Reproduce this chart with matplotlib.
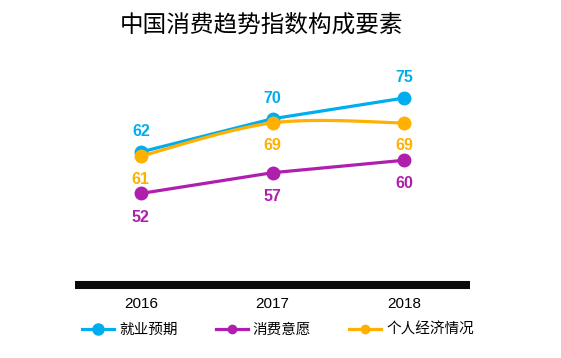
import numpy as np
import matplotlib
matplotlib.use("Agg")
import matplotlib.pyplot as plt
from matplotlib.lines import Line2D

plt.rcParams['font.family'] = ['Liberation Sans', 'Noto Sans CJK SC', 'DejaVu Sans']

years = ["2016", "2017", "2018"]
series_names = ["就业预期", "消费意愿", "个人经济情况"]
employment = [62, 70, 75]
willingness = [52, 57, 60]
personal = [61, 69, 69]

colors = ["#00AEEF", "#B01EAE", "#FFB000"]
label_offset = [14.5, -17, -16.5]   # points; + above the point, - below
smoothed = [False, False, True]      # only the orange line is drawn smoothed


def smooth(xs, ys, n=40):
    # Excel-like smoothed line through the points (cubic Bezier, Catmull-Rom control points)
    pts = np.column_stack([xs, ys]).astype(float)
    out = []
    for i in range(len(pts) - 1):
        p0 = pts[max(i - 1, 0)]
        p1 = pts[i]
        p2 = pts[i + 1]
        p3 = pts[min(i + 2, len(pts) - 1)]
        c1 = p1 + (p2 - p0) / 6
        c2 = p2 - (p3 - p1) / 6
        t = np.linspace(0, 1, n)[:, None]
        seg = (1 - t)**3 * p1 + 3 * (1 - t)**2 * t * c1 + 3 * (1 - t) * t**2 * c2 + t**3 * p2
        out.append(seg)
    s = np.vstack(out)
    return s[:, 0], s[:, 1]


W, H = 561, 358
fig = plt.figure(figsize=(W / 100, H / 100), dpi=100)
ax = fig.add_axes([75 / W, (H - 285) / H, 395 / W, 225 / H])

x = np.arange(len(years))
data = [employment, willingness, personal]
for k, (vals, c, off, sm) in enumerate(zip(data, colors, label_offset, smoothed)):
    if sm:
        sx, sy = smooth(x, vals)
    else:
        sx, sy = x, vals
    ax.plot(sx, sy, color=c, lw=2.3, zorder=2 + k, solid_capstyle="round")
    ax.plot(x, vals, "o", color=c, ms=9, zorder=2 + k)
    for xi, v in zip(x, vals):
        ax.annotate(str(v), (xi, v), xytext=(0, off), textcoords="offset points",
                    ha="center", va="center", fontsize=11.5, fontweight="bold", color=c)

ax.set_xlim(-0.5, 2.5)
ax.set_ylim(29.94, 84.16)
for s in ["top", "left", "right"]:
    ax.spines[s].set_visible(False)
ax.spines["bottom"].set_linewidth(5.8)
ax.spines["bottom"].set_color("#0a0a0a")
ax.spines["bottom"].set_capstyle("butt")
ax.set_yticks([])
ax.set_xticks(x)
ax.set_xticklabels(years, fontsize=11)
ax.tick_params(axis="x", length=0, pad=9)

fig.text(261 / W, 1 - 25 / H, "中国消费趋势指数构成要素", ha="center", va="center",
         fontsize=17, family=["Noto Sans CJK SC", "DejaVu Sans"])

handles = [
    Line2D([], [], color=colors[0], lw=2.3, marker="o", ms=8),
    Line2D([], [], color=colors[1], lw=2.3, marker="o", ms=6),
    Line2D([], [], color=colors[2], lw=2.3, marker="o", ms=6),
]
fig.legend(handles, series_names, loc="center", bbox_to_anchor=(278 / W, 1 - 330 / H),
           ncol=3, frameon=False, handlelength=2.2, handletextpad=0.35,
           columnspacing=2.6, prop={"family": ["Noto Sans CJK SC", "DejaVu Sans"], "size": 10.5})

fig.savefig("out.png", dpi=100)
